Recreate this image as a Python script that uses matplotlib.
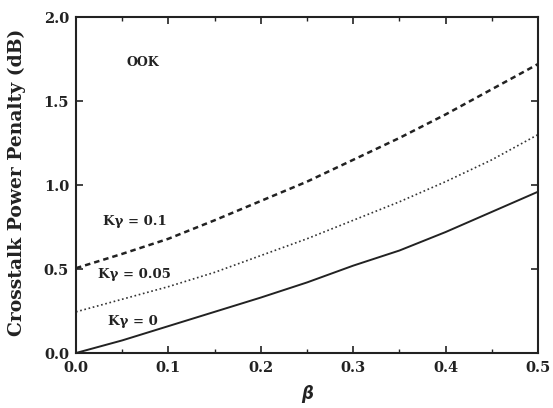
import matplotlib
matplotlib.use("Agg")
import matplotlib.pyplot as plt
from matplotlib.ticker import MultipleLocator

beta = [0.0, 0.05, 0.1, 0.15, 0.2, 0.25, 0.3, 0.35, 0.4, 0.45, 0.5]
pen_k0 = [0.0, 0.075, 0.16, 0.245, 0.33, 0.42, 0.52, 0.61, 0.72, 0.84, 0.96]
pen_k005 = [0.245, 0.32, 0.395, 0.48, 0.58, 0.68, 0.79, 0.90, 1.02, 1.15, 1.30]
pen_k01 = [0.505, 0.59, 0.68, 0.79, 0.905, 1.02, 1.15, 1.28, 1.42, 1.57, 1.72]

xticks = [0.0, 0.1, 0.2, 0.3, 0.4, 0.5]
yticks = [0.0, 0.5, 1.0, 1.5, 2.0]

plt.rcParams['font.family'] = ['DejaVu Serif']
plt.rcParams['font.weight'] = 'bold'

fig = plt.figure(figsize=(5.53, 4.08), dpi=100)
ax = fig.add_axes([0.1374, 0.1348, 0.9729 - 0.1374, 0.9583 - 0.1348])

ax.plot(beta, pen_k0, color='#222222', lw=1.4, linestyle='-')
ax.plot(beta, pen_k005, color='#333333', lw=1.2, linestyle=(0, (1, 1.6)))
ax.plot(beta, pen_k01, color='#222222', lw=1.8, linestyle=(0, (2.2, 1.6)))

ax.set_xlim(0, 0.5)
ax.set_ylim(0, 2.0)
ax.set_xticks(xticks)
ax.set_yticks(yticks)
ax.set_xticklabels([f"{v:.1f}" for v in xticks], fontsize=10.5, fontweight='bold')
ax.set_yticklabels([f"{v:.1f}" for v in yticks], fontsize=10.5, fontweight='bold')
ax.xaxis.set_minor_locator(MultipleLocator(0.05))
ax.tick_params(which='both', direction='in', top=True, right=True, colors='#222222')
ax.tick_params(which='major', length=5, width=1.2)
ax.tick_params(axis='x', which='major', pad=6)
ax.tick_params(axis='y', which='major', pad=5)
ax.tick_params(which='minor', length=3, width=1.0)
for s in ax.spines.values():
    s.set_linewidth(1.5)
    s.set_color('#222222')

fig.text(17 / 553, 1 - 182 / 408, 'Crosstalk Power Penalty (dB)', rotation=90,
         fontsize=13.5, fontweight='bold', ha='center', va='center', color='#222222')
fig.text(308 / 553, 1 - 394 / 408, r'$\beta$', fontsize=12, ha='center', va='center', color='#222222')

ax.text(0.055, 1.73, 'OOK', fontsize=9, fontweight='bold', va='center', ha='left', color='#222222')
ax.text(0.029, 0.78, 'Kγ = 0.1', fontsize=9.5, fontweight='bold', va='center', ha='left', color='#222222')
ax.text(0.024, 0.47, 'Kγ = 0.05', fontsize=9.5, fontweight='bold', va='center', ha='left', color='#222222')
ax.text(0.035, 0.185, 'Kγ = 0', fontsize=9.5, fontweight='bold', va='center', ha='left', color='#222222')

fig.savefig('out.png', dpi=100)
